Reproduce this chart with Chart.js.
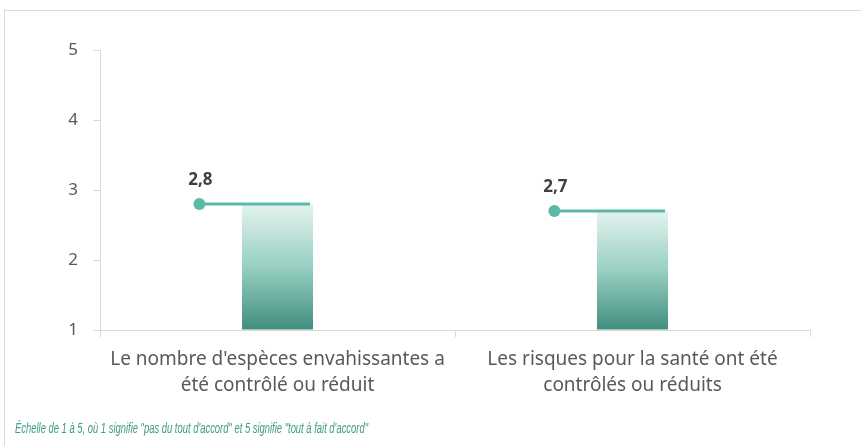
<!DOCTYPE html>
<html lang="fr">

<head>
    <meta charset="UTF-8">
    <title>Espèces envahissantes et risques pour la santé</title>
    <style>
        html, body { margin: 0; padding: 0; background: #fff; overflow: hidden; }
        #frame { position: absolute; left: 4px; top: 10px; width: 1000px; height: 600px; border: 1px solid #d9d9d9; }
        #wrap { position: absolute; left: 0; top: 0; width: 861px; height: 446px; }
    </style>
</head>

<body>
    <div id="frame"></div>
    <div id="wrap"><canvas id="myChart"></canvas></div>

    <script src="https://cdn.jsdelivr.net/npm/chart.js"></script>
    <script>
        // categories and mean scores
        const categories = [
            ["Le nombre d'espèces envahissantes a", "été contrôlé ou réduit"],
            ["Les risques pour la santé ont été", "contrôlés ou réduits"]
        ];
        const scores = [2.8, 2.7];
        const yTicks = [1, 2, 3, 4, 5];
        const note = 'Échelle de 1 à 5, où 1 signifie "pas du tout d\'accord" et 5 signifie "tout à fait d\'accord"';

        const teal = '#5cb9a5';
        const font = "'Noto Sans', 'Open Sans', sans-serif";

        // gradient from bar top (pale) to axis (dark)
        function barGradient(context) {
            const chart = context.chart;
            const area = chart.chartArea;
            if (!area || !chart.scales.y) return '#7fbfb0';
            const top = chart.scales.y.getPixelForValue(scores[context.dataIndex]);
            const g = chart.ctx.createLinearGradient(0, top, 0, area.bottom);
            g.addColorStop(0, '#e4f3ef');
            g.addColorStop(0.5, '#98cfc2');
            g.addColorStop(1, '#3f8e7e');
            return g;
        }

        // dot + line over each bar, with the value above the dot
        const markerPlugin = {
            id: 'marker',
            afterDatasetsDraw(chart) {
                const ctx = chart.ctx;
                const meta = chart.getDatasetMeta(0);
                const xs = chart.scales.x;
                const catW = (xs.right - xs.left) / categories.length;
                meta.data.forEach((bar, i) => {
                    const y = chart.scales.y.getPixelForValue(scores[i]);
                    const dotX = bar.x - catW * 0.22;
                    const right = bar.x + bar.width / 2 - 3;
                    ctx.save();
                    ctx.strokeStyle = teal;
                    ctx.lineWidth = 3;
                    ctx.beginPath();
                    ctx.moveTo(dotX, y);
                    ctx.lineTo(right, y);
                    ctx.stroke();
                    ctx.fillStyle = teal;
                    ctx.beginPath();
                    ctx.arc(dotX, y, 6, 0, Math.PI * 2);
                    ctx.fill();
                    ctx.fillStyle = '#404040';
                    ctx.font = "bold 17px " + font;
                    ctx.textAlign = 'center';
                    ctx.textBaseline = 'middle';
                    ctx.fillText(scores[i].toFixed(1).replace('.', ','), dotX + 1, y - 24);
                    ctx.restore();
                });
            },
            afterDraw(chart) {
                // scale note, squeezed to a narrow width
                const ctx = chart.ctx;
                ctx.save();
                ctx.fillStyle = '#3f9a87';
                ctx.font = "italic 15px 'Liberation Sans', sans-serif";
                ctx.textAlign = 'left';
                ctx.textBaseline = 'middle';
                const w = ctx.measureText(note).width;
                ctx.translate(15, 429);
                ctx.scale(353 / w, 1);
                ctx.fillText(note, 0, 0);
                ctx.restore();
            }
        };

        const data = {
            labels: categories,
            datasets: [{
                data: scores,
                base: 1,
                backgroundColor: barGradient,
                borderWidth: 0,
                barPercentage: 0.2,
                categoryPercentage: 1
            }]
        };

        const config = {
            type: 'bar',
            data,
            options: {
                responsive: false,
                animation: false,
                layout: { padding: { top: 50, right: 51, left: 0, bottom: 0 } },
                plugins: {
                    legend: { display: false },
                    tooltip: { enabled: false }
                },
                scales: {
                    y: {
                        min: 1,
                        max: 5,
                        afterBuildTicks: (axis) => { axis.ticks = yTicks.map(v => ({ value: v })); },
                        afterFit: (axis) => { axis.width = 100; },
                        border: { color: '#d9d9d9', width: 1 },
                        grid: { drawOnChartArea: false, drawTicks: true, tickLength: 7, color: '#d9d9d9' },
                        ticks: { color: '#595959', padding: 15, font: { family: font, size: 17 } }
                    },
                    x: {
                        afterFit: (axis) => { axis.height = 116; },
                        border: { color: '#d9d9d9', width: 1 },
                        grid: { drawOnChartArea: false, drawTicks: true, tickLength: 7, color: '#d9d9d9', offset: true },
                        ticks: { color: '#595959', padding: 10, font: { family: font, size: 19, lineHeight: 1.35 }, maxRotation: 0 }
                    }
                }
            },
            plugins: [markerPlugin]
        };

        const canvas = document.getElementById('myChart');
        canvas.width = 861;
        canvas.height = 446;
        const myChart = new Chart(canvas, config);
    </script>
</body>

</html>
